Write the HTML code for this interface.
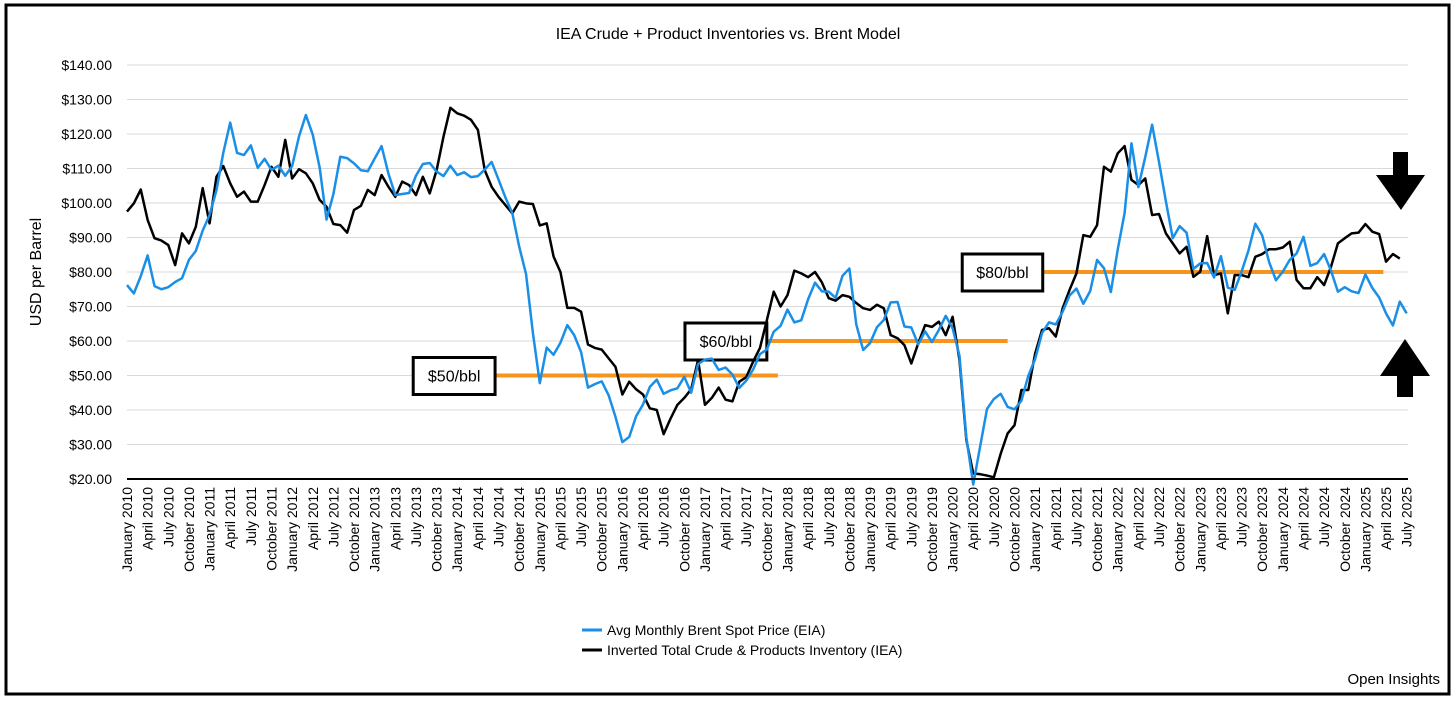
<!DOCTYPE html>
<html><head><meta charset="utf-8"><style>
html,body{margin:0;padding:0;background:#fff}
svg{display:block;font-family:"Liberation Sans",Arial,sans-serif}
</style></head><body>
<svg id="chart" width="1456" height="701" viewBox="0 0 1456 701">
<rect x="6" y="5" width="1443" height="689" fill="#fff" stroke="#000" stroke-width="3"/>
<text x="728" y="39" font-size="16" text-anchor="middle">IEA Crude + Product Inventories vs. Brent Model</text>
<text transform="translate(41,272) rotate(-90)" font-size="16" text-anchor="middle">USD per Barrel</text>
<g id="grid"></g><g id="yticks"></g><g id="xticks"></g><g id="refs"></g><g id="series"></g>
<line x1="127" y1="479" x2="1408" y2="479" stroke="#000" stroke-width="2"/>
<g><polygon points="1393,152 1408,152 1408,175 1425,175 1401,210 1376,175 1393,175" fill="#000"/></g>
<g><polygon points="1405,339 1430,376 1413,376 1413,397 1397,397 1397,376 1380,376" fill="#000"/></g>
<g>
<line x1="582" y1="630" x2="602" y2="630" stroke="#1a8fe8" stroke-width="3"/>
<text x="607" y="635" font-size="14">Avg Monthly Brent Spot Price (EIA)</text>
<line x1="582" y1="650" x2="602" y2="650" stroke="#000" stroke-width="3"/>
<text x="607" y="655" font-size="14">Inverted Total Crude &amp; Products Inventory (IEA)</text>
</g>
<text x="1440" y="684" font-size="15" text-anchor="end">Open Insights</text>
</svg>
<script>
const yTicks=[20,30,40,50,60,70,80,90,100,110,120,130,140];
const monthNames=["January","April","July","October"];
const brent=[76.2,73.8,78.8,84.8,75.9,75.0,75.6,77.1,78.2,83.5,86.1,92.0,
96.5,103.7,114.6,123.3,114.5,113.9,116.7,110.2,112.8,109.6,110.8,107.9,
110.7,119.3,125.5,119.8,110.3,95.2,102.6,113.4,113.0,111.5,109.5,109.2,
112.9,116.5,108.5,102.3,102.6,102.9,107.9,111.3,111.6,109.1,107.8,110.8,
108.1,108.9,107.5,107.8,109.7,111.9,106.8,101.6,97.1,87.4,79.4,62.3,
47.8,58.1,56.0,59.5,64.6,61.7,56.8,46.5,47.5,48.3,44.3,38.0,
30.7,32.2,38.2,41.6,46.7,48.8,44.7,45.7,46.3,49.6,45.0,53.3,
54.6,54.9,51.6,52.3,50.3,46.4,48.5,51.7,56.2,57.5,62.7,64.4,
69.1,65.4,66.0,72.1,76.9,74.4,74.3,72.5,78.9,81.0,64.8,57.4,
59.4,64.0,66.1,71.2,71.3,64.2,63.9,59.0,62.8,59.7,63.2,67.3,
63.7,55.7,32.0,18.4,29.4,40.3,43.2,44.7,40.9,40.2,42.7,49.9,
54.8,62.3,65.4,64.8,68.5,73.2,75.2,70.8,74.5,83.5,81.1,74.2,
86.5,97.1,117.3,104.6,113.3,122.7,111.9,100.5,89.8,93.3,91.4,80.9,
82.5,82.6,78.4,84.6,75.5,74.8,80.1,86.2,94.0,90.6,82.9,77.6,
80.1,83.5,85.4,90.2,81.8,82.6,85.2,80.4,74.3,75.6,74.4,73.9,
79.3,75.4,72.6,68.0,64.5,71.4,68.0];
const inventory=[97.5,99.9,103.9,95.1,89.8,89.1,87.8,82.0,91.2,88.3,93.1,104.3,
94.1,107.6,110.7,105.7,101.8,103.3,100.4,100.4,105.2,110.5,107.6,118.3,
107.1,109.8,108.6,105.7,100.9,98.9,93.9,93.6,91.4,98.0,99.2,103.8,
102.3,108.1,104.7,101.8,106.2,105.2,102.3,107.6,102.8,109.5,119.2,127.6,
126.0,125.3,124.1,121.2,109.5,104.7,101.8,99.4,97.0,100.4,99.9,99.7,
93.5,94.1,84.5,80.0,69.6,69.6,68.5,59.0,58.0,57.5,55.0,52.5,
44.5,48.2,46.0,44.5,40.5,40.0,33.0,37.5,41.5,43.5,46.0,54.5,
41.5,43.5,46.5,43.0,42.5,48.2,49.5,54.0,58.0,66.0,74.3,70.0,
73.3,80.4,79.6,78.5,80.0,77.0,72.4,71.7,73.3,72.8,71.0,69.5,
69.0,70.5,69.5,61.7,60.8,58.8,53.5,59.3,64.6,64.1,65.6,61.7,
67.0,54.5,31.3,21.6,21.4,21.0,20.5,27.4,33.2,35.6,45.8,45.8,
56.4,63.2,63.7,61.3,69.5,74.8,79.6,90.7,90.2,93.6,110.5,109.1,
114.4,116.5,106.7,105.2,107.1,96.5,96.8,91.2,88.3,85.4,87.3,78.6,
80.1,90.4,79.1,79.6,68.0,79.1,79.1,78.5,84.4,85.2,86.6,86.6,
87.1,88.8,77.7,75.3,75.3,78.5,76.2,81.5,88.3,89.8,91.2,91.4,
93.9,91.7,91.0,83.0,85.2,83.9];
const refLevels=[50,60,80];
const refLabels=["$50/bbl","$60/bbl","$80/bbl"];
const refStart=[53.5,93,133.1];
const refEnd=[94.6,128,182.6];
const refLabelStart=[41.6,81.1,121.4];

const NS="http://www.w3.org/2000/svg";
const X0=127,DX=6.88,Y0=479,YT=65;
const x=i=>X0+DX*i;
const y=v=>Y0-(v-20)*(Y0-YT)/120;
function mk(tag,attrs,parent){const e=document.createElementNS(NS,tag);for(const k in attrs)e.setAttribute(k,attrs[k]);parent.appendChild(e);return e;}
const grid=document.getElementById('grid'),yt=document.getElementById('yticks');
yTicks.forEach(v=>{
 if(v>20){const g=mk('line',{x1:X0,x2:1408,y1:y(v),y2:y(v),stroke:'#d9d9d9','stroke-width':1},grid);
 
 }
 const t=mk('text',{x:112,y:y(v)+5,'font-size':14,'text-anchor':'end'},yt);
 t.textContent='$'+v.toFixed(2);
 
 
});
const xt=document.getElementById('xticks');
for(let i=0;i<brent.length;i+=3){
 const yr=2010+Math.floor(i/12);
 const t=mk('text',{transform:`translate(${x(i)+5},487) rotate(-90)`,'font-size':14,'text-anchor':'end'},xt);
 t.textContent=monthNames[(i%12)/3]+' '+yr;
 
 
}
const refs=document.getElementById('refs');
refLevels.forEach((v,k)=>{
 const l=mk('line',{x1:x(refStart[k]),x2:x(refEnd[k]),y1:y(v),y2:y(v),stroke:'#f7941d','stroke-width':4},refs);
 
 
 const bx=x(refLabelStart[k]);
 const r=mk('rect',{x:bx,y:y(v)-18,width:x(refStart[k])-bx,height:37,fill:'#fff',stroke:'#000','stroke-width':3},refs);
 
 
 const t=mk('text',{x:(bx+x(refStart[k]))/2,y:y(v)+6,'font-size':16,'text-anchor':'middle'},refs);
 t.textContent=refLabels[k];
 
 
});
const ser=document.getElementById('series');
const p1=mk('polyline',{points:brent.map((v,i)=>x(i)+','+y(v)).join(' '),fill:'none',stroke:'#1a8fe8','stroke-width':2.5,'stroke-linejoin':'round'},ser);


const p2=mk('polyline',{points:inventory.map((v,i)=>x(i)+','+y(v)).join(' '),fill:'none',stroke:'#000','stroke-width':2.5,'stroke-linejoin':'round'},ser);


ser.insertBefore(p2,p1);
</script>
</body></html>
